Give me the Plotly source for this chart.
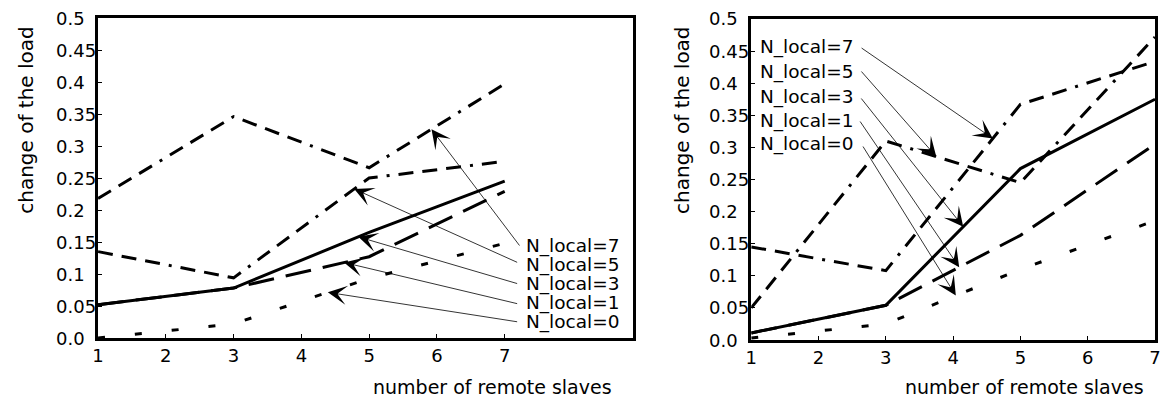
import numpy as np
import plotly.graph_objects as go

# ---------------- data ----------------
x_vals = [1, 3, 5, 7]
series_names = ["N_local=7", "N_local=5", "N_local=3", "N_local=1", "N_local=0"]

left_nl7 = [0.218, 0.346, 0.266, 0.397]
left_nl5 = [0.135, 0.094, 0.250, 0.276]
left_nl3 = [0.052, 0.078, 0.165, 0.245]
left_nl1 = [0.052, 0.078, 0.127, 0.229]
left_nl0 = [0.000, 0.022, 0.093, 0.148]

right_nl7 = [0.145, 0.108, 0.367, 0.434]
right_nl5 = [0.050, 0.310, 0.245, 0.472]
right_nl3 = [0.011, 0.054, 0.267, 0.375]
right_nl1 = [0.011, 0.054, 0.163, 0.305]
right_nl0 = [0.003, 0.025, 0.110, 0.186]

# x position (along the series) where each label's arrow points
left_arrow_x = [5.92, 4.78, 4.84, 4.63, 4.39]
right_arrow_x = [4.59, 3.75, 4.15, 4.09, 4.04]

x_ticks = [1, 2, 3, 4, 5, 6, 7]
y_ticks = [0.0, 0.05, 0.1, 0.15, 0.2, 0.25, 0.3, 0.35, 0.4, 0.45, 0.5]
y_tick_text = ["0.0", "0.05", "0.1", "0.15", "0.2", "0.25", "0.3", "0.35", "0.4", "0.45", "0.5"]

x_title = "number of remote slaves"
y_title = "change of the load"

# ---------------- styles / layout ----------------
W, H = 1163, 400
FONT = "DejaVu Sans"
dash_styles = [
    "15px,9px,15px,9px,15px,9px,3px,9px",
    "15px,9px,15px,9px,15px,9px,3px,9px",
    "solid",
    "26px,12px",
    "7px,30px",
]

left_series = [left_nl7, left_nl5, left_nl3, left_nl1, left_nl0]
right_series = [right_nl7, right_nl5, right_nl3, right_nl1, right_nl0]

# panel geometry in pixels
L_px = dict(x0=93, x1=634, top=18, bottom=338)
R_px = dict(x0=753, x1=1161, top=19, bottom=340)
L_xrange = [1, 8.9]
R_xrange = [1, 7]

fig = go.Figure()

for i, (ys, dash) in enumerate(zip(left_series, dash_styles)):
    fig.add_trace(go.Scatter(x=x_vals, y=ys, mode="lines", xaxis="x", yaxis="y",
                             line=dict(color="black", width=3, dash=dash),
                             showlegend=False, name=series_names[i]))
for i, (ys, dash) in enumerate(zip(right_series, dash_styles)):
    fig.add_trace(go.Scatter(x=x_vals, y=ys, mode="lines", xaxis="x2", yaxis="y2",
                             line=dict(color="black", width=3, dash=dash),
                             showlegend=False, name=series_names[i]))


def px2data(px, py, g, xr):
    xd = xr[0] + (px - g["x0"]) / (g["x1"] - g["x0"]) * (xr[1] - xr[0])
    yd = (g["bottom"] - py) / (g["bottom"] - g["top"]) * 0.5
    return xd, yd


annotations = []

# label positions (pixels) and arrow tail positions (pixels)
L_label_x = 523
L_label_y = [246, 265, 284, 303, 322]
L_tail = [(520, 247), (518, 263), (518, 284), (518, 304), (518, 322)]
R_label_x = 760
R_label_y = [47, 72, 97, 121, 144]
R_tail = [(863, 47), (863, 70), (863, 97), (862, 120), (865, 145)]

for panel, series, arrow_x, g, xr, lx, lys, tails, xa, ya in [
    ("L", left_series, left_arrow_x, L_px, L_xrange, L_label_x, L_label_y, L_tail, "x", "y"),
    ("R", right_series, right_arrow_x, R_px, R_xrange, R_label_x, R_label_y, R_tail, "x2", "y2"),
]:
    for i in range(5):
        tip_x = arrow_x[i]
        tip_y = float(np.interp(tip_x, x_vals, series[i]))
        tx, ty = px2data(tails[i][0], tails[i][1], g, xr)
        annotations.append(dict(
            x=tip_x, y=tip_y, xref=xa, yref=ya,
            ax=tx, ay=ty, axref=xa, ayref=ya,
            text="", showarrow=True, arrowhead=3, arrowsize=4, arrowwidth=0.8,
            arrowcolor="black", standoff=0, startstandoff=0))
        annotations.append(dict(
            x=lx / W, y=1 - lys[i] / H, xref="paper", yref="paper",
            xanchor="left", yanchor="middle", text=series_names[i], showarrow=False,
            font=dict(family=FONT, size=18.5, color="black")))

# y tick labels (left aligned)
for xpx, ya in [(49, "y"), (708, "y2")]:
    for v, t in zip(y_ticks, y_tick_text):
        annotations.append(dict(x=xpx / W, y=v, xref="paper", yref=ya, xanchor="left",
                                yanchor="middle", text=t, showarrow=False,
                                font=dict(family=FONT, size=18, color="black")))

# axis titles
for cx in [20, 683]:
    annotations.append(dict(x=cx / W, y=1 - 120 / H, xref="paper", yref="paper",
                            text=y_title, textangle=-90, showarrow=False,
                            xanchor="center", yanchor="middle",
                            font=dict(family=FONT, size=20, color="black")))
for cx in [492, 1029]:
    annotations.append(dict(x=cx / W, y=1 - 387 / H, xref="paper", yref="paper",
                            text=x_title, showarrow=False,
                            xanchor="center", yanchor="middle",
                            font=dict(family=FONT, size=19, color="black")))

axis_common = dict(showline=True, linecolor="black", linewidth=2.5, mirror=True,
                   showgrid=False, zeroline=False, ticks="inside", ticklen=4,
                   tickcolor="black", tickwidth=1)

fig.update_layout(
    width=W, height=H,
    margin=dict(l=0, r=0, t=0, b=0),
    paper_bgcolor="white", plot_bgcolor="white",
    font=dict(family=FONT, size=18, color="black"),
    xaxis=dict(domain=[L_px["x0"] / W, L_px["x1"] / W], range=L_xrange,
               tickvals=x_ticks, tickfont=dict(size=18), anchor="y", **axis_common),
    yaxis=dict(domain=[1 - L_px["bottom"] / H, 1 - L_px["top"] / H], range=[0, 0.5],
               tickvals=y_ticks, showticklabels=False, anchor="x", **axis_common),
    xaxis2=dict(domain=[R_px["x0"] / W, R_px["x1"] / W], range=R_xrange,
                tickvals=x_ticks, tickfont=dict(size=18), anchor="y2",
                ticklabeloverflow="allow", **axis_common),
    yaxis2=dict(domain=[1 - R_px["bottom"] / H, 1 - R_px["top"] / H], range=[0, 0.5],
                tickvals=y_ticks, showticklabels=False, anchor="x2", **axis_common),
    annotations=annotations,
)

fig.write_html("out.html", config={"displayModeBar": False},
               post_script="document.body.style.margin='0px';")
